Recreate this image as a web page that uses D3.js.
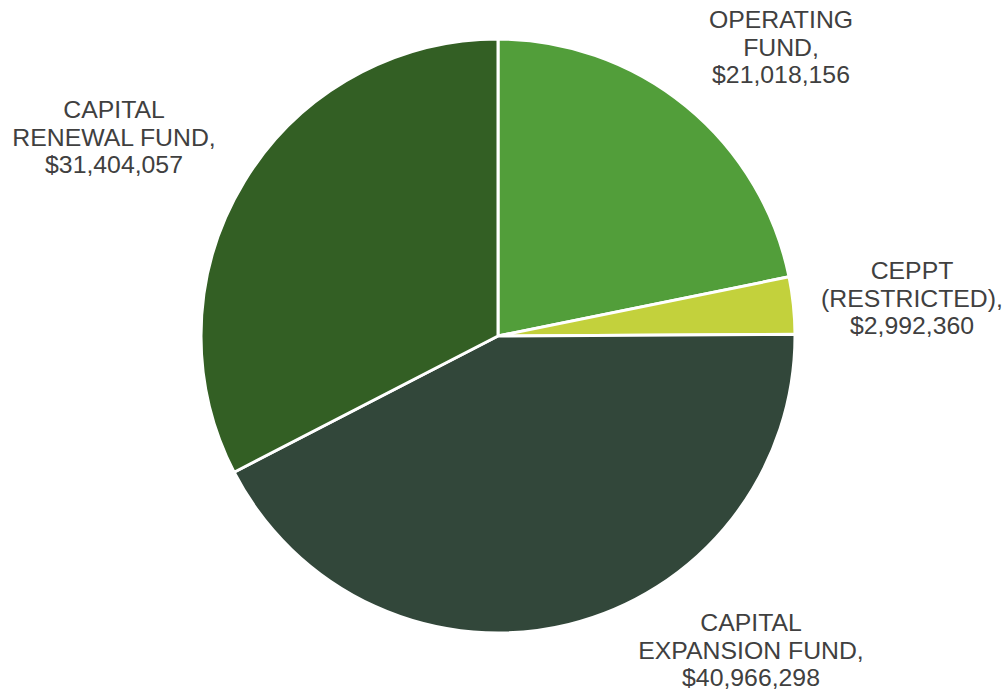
<!DOCTYPE html>
<html>
<head>
<meta charset="utf-8">
<script src="https://cdn.jsdelivr.net/npm/d3@7"></script>
<style>
  html, body { margin: 0; padding: 0; background: #fff; }
  svg { display: block; }
  text { font-family: "Liberation Sans", Arial, sans-serif; }
</style>
</head>
<body>
<svg id="chart" width="1008" height="696"></svg>
<script>
// Fund balances, in slice order clockwise from 12 o'clock
const funds = ["OPERATING FUND", "CEPPT (RESTRICTED)", "CAPITAL EXPANSION FUND", "CAPITAL RENEWAL FUND"];
const labelLines = [
  ["OPERATING", "FUND,"],
  ["CEPPT", "(RESTRICTED),"],
  ["CAPITAL", "EXPANSION FUND,"],
  ["CAPITAL", "RENEWAL FUND,"]
];
const balances = [21018156, 2992360, 40966298, 31404057];
const colors = ["#529e3a", "#c3d13c", "#32473a", "#335f24"];

// Label block centres (first-line baseline), relative to the pie centre
const labelAnchors = [
  [283, -308],
  [414, -57],
  [253, 295],
  [-384, -218]
];

const svg = d3.select("#chart");
const cx = 498, cy = 336, radius = 297;
const lineGap = 27.5;

const data = funds.map((f, i) => ({ name: f, value: balances[i], lines: labelLines[i], color: colors[i], anchor: labelAnchors[i] }));

const pie = d3.pie().sort(null).value(d => d.value).startAngle(0).endAngle(2 * Math.PI);
const arc = d3.arc().innerRadius(0).outerRadius(radius);
const fmt = d3.format("$,");

const g = svg.append("g").attr("transform", `translate(${cx},${cy})`);

g.selectAll("path.slice")
  .data(pie(data))
  .join("path")
  .attr("class", "slice")
  .attr("d", arc)
  .attr("fill", d => d.data.color)
  .attr("stroke", "#ffffff")
  .attr("stroke-width", 3)
  .attr("stroke-linejoin", "round");

const labels = g.selectAll("text.label")
  .data(pie(data))
  .join("text")
  .attr("class", "label")
  .attr("text-anchor", "middle")
  .attr("font-size", 24.8)
  .attr("fill", "#404040")
  .attr("transform", d => `translate(${d.data.anchor[0]},${d.data.anchor[1]})`);

labels.each(function (d) {
  const t = d3.select(this);
  const lines = d.data.lines.concat([fmt(d.data.value)]);
  lines.forEach((ln, i) => {
    t.append("tspan").attr("x", 0).attr("y", i * lineGap).text(ln);
  });
});
</script>
</body>
</html>
